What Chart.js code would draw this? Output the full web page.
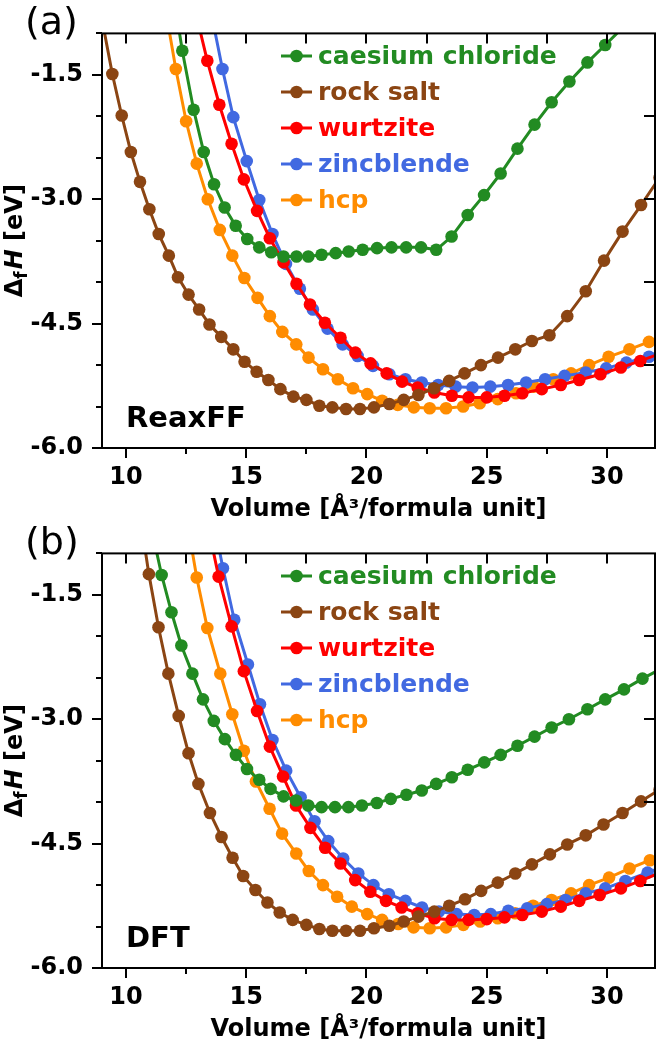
<!DOCTYPE html>
<html><head><meta charset="utf-8">
<script src="https://cdn.jsdelivr.net/npm/chart.js@4.4.1/dist/chart.umd.min.js"></script>
<style>html,body{margin:0;padding:0;background:#fff;width:670px;height:1040px;overflow:hidden}canvas{position:absolute;left:0}</style>
</head><body>
<canvas id="ca" width="670" height="520" style="top:0px"></canvas>
<canvas id="cb" width="670" height="520" style="top:520px"></canvas>
<script>
const FONT = '"DejaVu Sans", "Liberation Sans", sans-serif';
const structures = ['caesium chloride', 'rock salt', 'wurtzite', 'zincblende', 'hcp'];
const colors = ['#228B22', '#8B4513', '#FF0000', '#4169E1', '#FF8C00'];
const xLabelTicks = [10, 15, 20, 25, 30];
const xMinorTicks = [12.5, 17.5, 22.5, 27.5];
const yLabelTicks = [-6.0, -4.5, -3.0, -1.5];
const yMinorTicks = [-5.5, -5.0, -4.0, -3.5, -2.5, -2.0, -1.0];
const rightTicks = [-5, -4, -3, -2];
const topTicks = [10, 12.5, 15, 17.5, 20, 22.5, 25, 27.5, 30];

// ---------- (a) ReaxFF ----------
const reaxCsClV = [11.96,12.34,12.81,13.23,13.66,14.10,14.56,15.04,15.54,16.04,16.55,17.09,17.58,18.13,18.72,19.26,19.84,20.44,21.04,21.65,22.27,22.90,23.54,24.21,24.89,25.58,26.28,26.99,27.70,28.44,29.19,29.93,30.69];
const reaxCsClE = [-0.51,-1.21,-1.92,-2.43,-2.82,-3.10,-3.32,-3.48,-3.58,-3.64,-3.69,-3.69,-3.69,-3.67,-3.65,-3.63,-3.61,-3.59,-3.58,-3.58,-3.58,-3.61,-3.45,-3.19,-2.95,-2.69,-2.39,-2.10,-1.83,-1.58,-1.35,-1.14,-0.92];
const reaxRockV = [9.05,9.43,9.82,10.20,10.58,10.97,11.36,11.78,12.16,12.60,13.04,13.47,13.96,14.46,14.93,15.43,15.92,16.42,16.96,17.50,18.04,18.58,19.15,19.73,20.31,20.95,21.55,22.16,22.81,23.44,24.08,24.76,25.47,26.19,26.88,27.61,28.35,29.12,29.88,30.65,31.42,32.19];
const reaxRockE = [-0.91,-1.49,-1.99,-2.43,-2.79,-3.12,-3.42,-3.68,-3.94,-4.15,-4.33,-4.51,-4.66,-4.81,-4.96,-5.08,-5.18,-5.29,-5.38,-5.42,-5.49,-5.51,-5.53,-5.53,-5.51,-5.47,-5.42,-5.36,-5.28,-5.19,-5.10,-5.00,-4.91,-4.81,-4.71,-4.64,-4.41,-4.11,-3.74,-3.39,-3.07,-2.74];
const reaxWurtV = [12.89,13.38,13.88,14.39,14.90,15.45,15.98,16.55,17.09,17.65,18.27,18.92,19.54,20.17,20.84,21.48,22.13,22.82,23.55,24.25,25.00,25.74,26.48,27.29,28.08,28.85,29.73,30.58,31.39,32.23];
const reaxWurtE = [-0.74,-1.33,-1.86,-2.33,-2.76,-3.14,-3.47,-3.76,-4.02,-4.27,-4.49,-4.67,-4.85,-4.98,-5.10,-5.20,-5.27,-5.33,-5.37,-5.39,-5.39,-5.37,-5.34,-5.29,-5.24,-5.18,-5.11,-5.03,-4.95,-4.86];
const reaxZincV = [13.54,14.01,14.46,15.02,15.54,16.09,16.65,17.23,17.77,18.38,19.01,19.63,20.27,20.95,21.62,22.30,22.98,23.71,24.41,25.15,25.89,26.64,27.43,28.24,29.12,29.97,30.81,31.75,32.63];
const reaxZincE = [-0.75,-1.43,-2.01,-2.54,-3.01,-3.42,-3.78,-4.08,-4.33,-4.56,-4.75,-4.89,-5.01,-5.11,-5.17,-5.21,-5.24,-5.26,-5.27,-5.26,-5.24,-5.21,-5.17,-5.13,-5.09,-5.04,-4.97,-4.90,-4.82];
const reaxHcpV = [11.66,12.07,12.50,12.94,13.40,13.90,14.42,14.92,15.47,15.98,16.50,17.08,17.59,18.19,18.81,19.44,20.03,20.65,21.30,21.97,22.63,23.31,24.02,24.71,25.46,26.22,26.96,27.77,28.51,29.26,30.07,30.94,31.75,32.59];
const reaxHcpE = [-0.74,-1.43,-2.06,-2.57,-3.00,-3.37,-3.68,-3.95,-4.19,-4.41,-4.60,-4.75,-4.91,-5.05,-5.17,-5.28,-5.35,-5.43,-5.48,-5.51,-5.52,-5.52,-5.50,-5.46,-5.41,-5.34,-5.26,-5.17,-5.10,-5.00,-4.90,-4.81,-4.72,-4.63];

// ---------- (b) DFT ----------
const dftCsClV = [11.08,11.48,11.89,12.30,12.76,13.20,13.65,14.11,14.57,15.03,15.54,16.01,16.55,17.07,17.58,18.13,18.69,19.25,19.81,20.43,21.01,21.66,22.30,22.90,23.55,24.21,24.90,25.58,26.28,26.99,27.70,28.42,29.19,29.93,30.71,31.48,32.27];
const dftCsClE = [-0.73,-1.26,-1.71,-2.11,-2.45,-2.76,-3.02,-3.24,-3.43,-3.60,-3.73,-3.84,-3.93,-3.98,-4.04,-4.06,-4.06,-4.06,-4.04,-4.01,-3.96,-3.91,-3.86,-3.78,-3.70,-3.61,-3.52,-3.43,-3.32,-3.21,-3.10,-3.00,-2.88,-2.76,-2.64,-2.51,-2.39];
const dftRockV = [10.56,10.95,11.35,11.76,12.19,12.60,13.01,13.49,13.97,14.43,14.87,15.38,15.88,16.39,16.93,17.50,18.04,18.58,19.15,19.73,20.31,20.95,21.55,22.16,22.82,23.44,24.10,24.77,25.46,26.19,26.88,27.63,28.35,29.12,29.86,30.65,31.42,32.19];
const dftRockE = [-0.51,-1.25,-1.89,-2.45,-2.96,-3.41,-3.78,-4.13,-4.42,-4.67,-4.89,-5.06,-5.21,-5.33,-5.42,-5.48,-5.53,-5.55,-5.55,-5.55,-5.52,-5.49,-5.44,-5.38,-5.32,-5.25,-5.17,-5.07,-4.97,-4.86,-4.75,-4.63,-4.51,-4.40,-4.27,-4.13,-3.99,-3.85];
const dftWurtV = [13.38,13.85,14.39,14.90,15.45,15.98,16.53,17.07,17.67,18.28,18.92,19.53,20.16,20.81,21.46,22.13,22.83,23.54,24.25,25.00,25.74,26.48,27.29,28.08,28.85,29.70,30.58,31.39,32.23];
const dftWurtE = [-0.63,-1.28,-1.88,-2.42,-2.90,-3.33,-3.69,-4.04,-4.31,-4.55,-4.74,-4.94,-5.08,-5.19,-5.27,-5.34,-5.40,-5.42,-5.42,-5.41,-5.39,-5.36,-5.32,-5.26,-5.19,-5.12,-5.04,-4.95,-4.85];
const dftZincV = [13.56,14.03,14.50,15.07,15.57,16.09,16.66,17.26,17.84,18.41,19.03,19.66,20.29,20.93,21.62,22.31,23.01,23.75,24.48,25.17,25.90,26.69,27.50,28.28,29.12,29.93,30.77,31.69,32.59];
const dftZincE = [-0.49,-1.18,-1.80,-2.34,-2.82,-3.25,-3.62,-3.94,-4.23,-4.47,-4.68,-4.86,-5.00,-5.11,-5.19,-5.27,-5.32,-5.35,-5.36,-5.35,-5.31,-5.28,-5.23,-5.18,-5.10,-5.04,-4.95,-4.85,-4.75];
const dftHcpV = [12.52,12.94,13.38,13.92,14.42,14.90,15.40,15.97,16.49,17.08,17.60,18.19,18.78,19.39,20.03,20.65,21.32,21.96,22.63,23.31,24.03,24.73,25.46,26.18,26.93,27.70,28.51,29.26,30.09,30.94,31.79,32.63];
const dftHcpE = [-0.58,-1.29,-1.90,-2.45,-2.94,-3.38,-3.75,-4.08,-4.38,-4.62,-4.83,-5.00,-5.14,-5.26,-5.35,-5.42,-5.47,-5.51,-5.52,-5.51,-5.48,-5.44,-5.40,-5.34,-5.25,-5.18,-5.10,-5.00,-4.91,-4.80,-4.70,-4.59];

const panelA = [[reaxCsClV, reaxCsClE], [reaxRockV, reaxRockE], [reaxWurtV, reaxWurtE], [reaxZincV, reaxZincE], [reaxHcpV, reaxHcpE]];
const panelB = [[dftCsClV, dftCsClE], [dftRockV, dftRockE], [dftWurtV, dftWurtE], [dftZincV, dftZincE], [dftHcpV, dftHcpE]];

const MARKER_R = 6.3;
const LINE_W = 3;

function isMult(v, s) { const q = v / s; return Math.abs(q - Math.round(q)) < 1e-6; }

const decorPlugin = {
  id: 'decor',
  afterDatasetsDraw(chart, args, opts) {
    const ctx = chart.ctx;
    const xs = chart.scales.x, ys = chart.scales.y;
    const a = chart.chartArea;
    ctx.save();
    ctx.strokeStyle = '#000';
    ctx.lineWidth = 2;
    ctx.lineCap = 'butt';
    ctx.beginPath();
    xLabelTicks.forEach(v => { const p = Math.round(xs.getPixelForValue(v)); ctx.moveTo(p, a.bottom); ctx.lineTo(p, a.bottom + 10); });
    xMinorTicks.forEach(v => { const p = Math.round(xs.getPixelForValue(v)); ctx.moveTo(p, a.bottom); ctx.lineTo(p, a.bottom + 6); });
    yLabelTicks.forEach(v => { const p = Math.round(ys.getPixelForValue(v)); ctx.moveTo(a.left, p); ctx.lineTo(a.left - 10, p); });
    yMinorTicks.forEach(v => { const p = Math.round(ys.getPixelForValue(v)); ctx.moveTo(a.left, p); ctx.lineTo(a.left - 6, p); });
    topTicks.forEach(v => { const p = Math.round(xs.getPixelForValue(v)); ctx.moveTo(p, a.top); ctx.lineTo(p, a.top + 10); });
    rightTicks.forEach(v => { const p = Math.round(ys.getPixelForValue(v)); ctx.moveTo(a.right, p); ctx.lineTo(a.right - 11, p); });
    ctx.stroke();
    ctx.strokeRect(a.left, a.top, a.right - a.left, a.bottom - a.top);

    chart.data.datasets.forEach((ds, i) => {
      const y = 56 + 36 * i;
      ctx.strokeStyle = ds.borderColor;
      ctx.lineWidth = LINE_W;
      ctx.beginPath(); ctx.moveTo(281, y); ctx.lineTo(312, y); ctx.stroke();
      ctx.fillStyle = ds.borderColor;
      ctx.beginPath(); ctx.arc(296.5, y, MARKER_R, 0, Math.PI * 2); ctx.fill();
      ctx.font = 'bold 25px ' + FONT;
      ctx.textAlign = 'left'; ctx.textBaseline = 'middle';
      ctx.fillText(ds.label, 318, y + 1);
    });

    ctx.fillStyle = '#000';
    ctx.font = 'bold 29px ' + FONT;
    ctx.textAlign = 'left'; ctx.textBaseline = 'alphabetic';
    ctx.fillText(opts.method, 126, 427);

    ctx.font = '38px ' + FONT;
    ctx.fillText(opts.panel, 25, opts.panelBase);

    ctx.translate(22, (a.top + a.bottom) / 2);
    ctx.rotate(-Math.PI / 2);
    const fBig = 'bold 24px ' + FONT, fSub = 'bold 17px ' + FONT, fIt = 'italic bold 24px ' + FONT;
    ctx.font = fBig; const w1 = ctx.measureText('\u0394').width;
    ctx.font = fSub; const w2 = ctx.measureText('f').width;
    ctx.font = fIt; const w3 = ctx.measureText('H').width;
    ctx.font = fBig; const w4 = ctx.measureText(' [eV]').width;
    let x = -(w1 + w2 + w3 + w4 + 2) / 2;
    ctx.textAlign = 'left'; ctx.textBaseline = 'alphabetic';
    ctx.font = fBig; ctx.fillText('\u0394', x, 0); x += w1;
    ctx.font = fSub; ctx.fillText('f', x, 5); x += w2 + 2;
    ctx.font = fIt; ctx.fillText('H', x, 0); x += w3;
    ctx.font = fBig; ctx.fillText(' [eV]', x, 0);
    ctx.restore();
  }
};

function makeChart(id, series, method, panel, panelBase) {
  const datasets = series.map((s, i) => ({
    label: structures[i],
    data: s[0].map((v, j) => ({x: v, y: s[1][j]})),
    borderColor: colors[i],
    backgroundColor: colors[i],
    pointBackgroundColor: colors[i],
    pointBorderColor: colors[i],
    pointBorderWidth: 0,
    pointRadius: MARKER_R,
    borderWidth: LINE_W,
    tension: 0,
    clip: 0
  }));
  return new Chart(document.getElementById(id), {
    type: 'line',
    data: {datasets},
    plugins: [decorPlugin],
    options: {
      responsive: false, animation: false, devicePixelRatio: 1, events: [],
      layout: {padding: {top: 24, right: 2, left: 0, bottom: 0}},
      plugins: {legend: {display: false}, tooltip: {enabled: false}, decor: {method, panel, panelBase}},
      scales: {
        x: {
          type: 'linear', min: 9, max: 32,
          afterFit(s) { s.height = 72; },
          grid: {display: false, drawTicks: false}, border: {display: false},
          ticks: {stepSize: 2.5, autoSkip: false, maxRotation: 0, padding: 15, color: '#000',
                  font: {family: FONT, size: 24, weight: 'bold'},
                  callback: v => isMult(v, 5) ? String(Math.round(v)) : ''},
          title: {display: true, text: 'Volume [\u00C5\u00B3/formula unit]', color: '#000', padding: 0,
                  font: {family: FONT, size: 24, weight: 'bold', lineHeight: 0.85}}
        },
        y: {
          type: 'linear', min: -6, max: -1,
          afterFit(s) { s.width = 102; },
          grid: {display: false, drawTicks: false}, border: {display: false},
          ticks: {stepSize: 0.5, autoSkip: false, padding: 19, color: '#000',
                  font: {family: FONT, size: 24, weight: 'bold'},
                  callback: v => isMult(v, 1.5) ? v.toFixed(1) : ''}
        }
      }
    }
  });
}

makeChart('ca', panelA, 'ReaxFF', '(a)', 34);
makeChart('cb', panelB, 'DFT', '(b)', 34);
</script>
</body></html>
